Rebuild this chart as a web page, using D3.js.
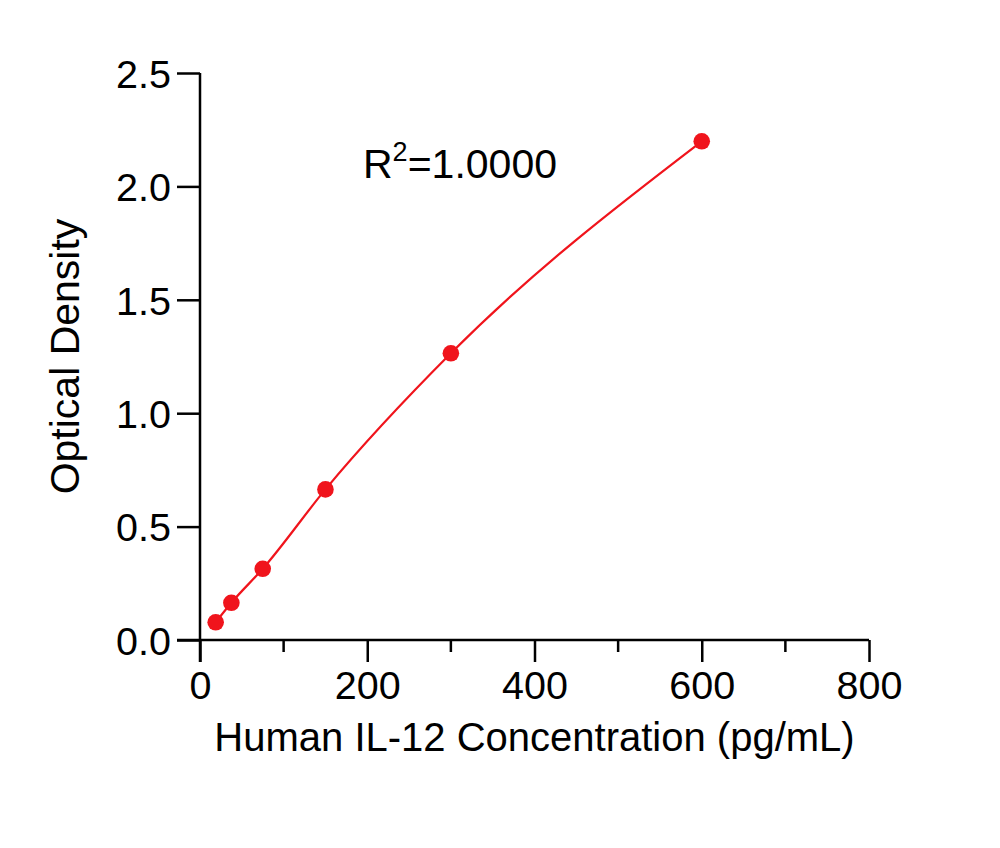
<!DOCTYPE html>
<html>
<head>
<meta charset="utf-8">
<script src="https://cdn.jsdelivr.net/npm/d3@7"></script>
<style>
  body { margin: 0; background: #fff; }
  svg text { font-family: "Liberation Sans", Arial, sans-serif; fill: #000; }
</style>
</head>
<body>
<div id="chart"></div>
<script>
// standard curve values
const concentrations = [18.75, 37.5, 75, 150, 300, 600];
const densities = [0.078, 0.164, 0.314, 0.664, 1.264, 2.199];
const xTicks = [0, 200, 400, 600, 800];
const xMinorTicks = [100, 300, 500, 700];
const yTicks = [0, 0.5, 1.0, 1.5, 2.0, 2.5];
const rSquared = "1.0000";

const width = 1000, height = 848;
const margin = { left: 200, right: 131, top: 73, bottom: 208 };
const w = width - margin.left - margin.right;
const h = height - margin.top - margin.bottom;

const svg = d3.select("#chart").append("svg")
  .attr("width", width).attr("height", height);

const g = svg.append("g")
  .attr("transform", `translate(${margin.left},${margin.top})`);

const x = d3.scaleLinear().domain([0, 800]).range([0, w]);
const y = d3.scaleLinear().domain([0, 2.5]).range([h, 0]);

const red = "#f0141c";

// y axis
const yAxis = g.append("g")
  .call(d3.axisLeft(y).tickValues(yTicks).tickFormat(d3.format(".1f"))
    .tickSize(23).tickPadding(6));
yAxis.select(".domain").remove();
yAxis.append("line").attr("x1", 0).attr("x2", 0).attr("y1", 0).attr("y2", h + 22)
  .attr("stroke", "#000").attr("stroke-width", 2.5);
yAxis.selectAll(".tick line").attr("stroke-width", 2.5);
yAxis.selectAll("text").style("font-size", "39.5px").attr("dy", "0.36em");

// x axis (major + minor ticks)
const xAxis = g.append("g").attr("transform", `translate(0,${h})`)
  .call(d3.axisBottom(x).tickValues(xTicks).tickSize(22).tickPadding(9));
xAxis.select(".domain").remove();
xAxis.append("line").attr("x1", -23).attr("x2", w).attr("y1", 0).attr("y2", 0)
  .attr("stroke", "#000").attr("stroke-width", 2.5);
xAxis.selectAll(".tick line").attr("stroke-width", 2.5);
xAxis.selectAll("text").style("font-size", "39.5px");
xAxis.selectAll(".minor").data(xMinorTicks).join("line")
  .attr("class", "minor")
  .attr("x1", d => x(d)).attr("x2", d => x(d))
  .attr("y1", 0).attr("y2", 12)
  .attr("stroke", "#000").attr("stroke-width", 2.5);

// axis titles
g.append("text")
  .attr("x", w / 2).attr("y", h + 111)
  .attr("text-anchor", "middle")
  .style("font-size", "40px")
  .text("Human IL-12 Concentration (pg/mL)");

g.append("text")
  .attr("transform", `translate(${79 - margin.left},${h / 2}) rotate(-90)`)
  .attr("text-anchor", "middle")
  .style("font-size", "41px")
  .text("Optical Density");

// fitted curve
const pts = concentrations.map((c, i) => [c, densities[i]]);
g.append("path")
  .datum(pts)
  .attr("fill", "none")
  .attr("stroke", red)
  .attr("stroke-width", 2.2)
  .attr("d", d3.line().x(d => x(d[0])).y(d => y(d[1])).curve(d3.curveMonotoneX));

g.selectAll("circle").data(pts).join("circle")
  .attr("cx", d => x(d[0])).attr("cy", d => y(d[1]))
  .attr("r", 8.3).attr("fill", red);

// R squared label
const r2 = g.append("text")
  .attr("x", 363 - margin.left).attr("y", 178 - margin.top)
  .style("font-size", "41px");
r2.append("tspan").text("R");
r2.append("tspan").attr("dy", -17).style("font-size", "27px").text("2");
r2.append("tspan").attr("dy", 17).text("=" + rSquared);
</script>
</body>
</html>
